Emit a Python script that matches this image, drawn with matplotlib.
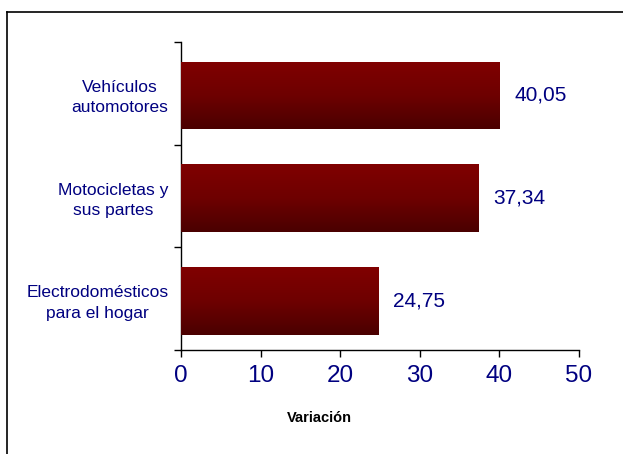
import numpy as np
import matplotlib
matplotlib.use("Agg")
import matplotlib.pyplot as plt
from matplotlib.colors import LinearSegmentedColormap
from matplotlib.lines import Line2D

plt.rcParams['font.family'] = ['Liberation Sans', 'DejaVu Sans']

# datos (de abajo hacia arriba)
categories = ['Electrodomésticos\npara el hogar', 'Motocicletas y\nsus partes', 'Vehículos\nautomotores']
values = [24.75, 37.34, 40.05]
xticks = [0, 10, 20, 30, 40, 50]

navy = '#000080'
W, H = 623, 454
fig = plt.figure(figsize=(W / 100, H / 100), dpi=100)
ax = fig.add_axes([181 / W, 1 - 350 / H, (579 - 181) / W, (350 - 42) / H])

ypos = np.arange(len(categories))
bars = ax.barh(ypos - 0.02, values, height=0.66, color='#700000', zorder=2)

# degradado vertical en cada barra
cmap = LinearSegmentedColormap.from_list('grad', ['#4a0000', '#6e0000', '#800000'])
grad = np.linspace(0, 1, 256).reshape(-1, 1)
for b in bars:
    x0, y0 = b.get_x(), b.get_y()
    im = ax.imshow(grad, cmap=cmap, aspect='auto', origin='lower',
                   extent=[x0, x0 + b.get_width(), y0, y0 + b.get_height()], zorder=3)
    im.set_clip_path(b)

for y, v in zip(ypos, values):
    ax.text(v + 1.9, y - 0.02, f'{v:.2f}'.replace('.', ','), va='center', ha='left',
            fontsize=15, color=navy)

ax.set_xlim(0, 50)
ax.set_ylim(-0.5, 2.5)
ax.set_xticks(xticks)
ax.set_xticklabels([str(t) for t in xticks], fontsize=17.5, color=navy)
ax.tick_params(axis='x', direction='out', length=5, width=1, pad=6)

ax.set_yticks(ypos)
ax.set_yticklabels(categories, fontsize=12.5, color=navy)
for t in ax.get_yticklabels():
    t.set_multialignment('center')
    t.set_linespacing(1.45)
ax.tick_params(axis='y', which='major', length=0, pad=9)
ax.set_yticks([-0.5, 0.5, 1.5, 2.5], minor=True)
ax.tick_params(axis='y', which='minor', direction='out', length=5, width=1)

for s in ['top', 'right']:
    ax.spines[s].set_visible(False)
for s in ['left', 'bottom']:
    ax.spines[s].set_linewidth(1)

fig.text(319 / W, 1 - 418 / H, 'Variación', ha='center', va='center',
         fontsize=10.5, fontweight='bold', color='black')

# marco del gráfico (solo izquierda y arriba visibles)
fig.add_artist(Line2D([7 / W, 7 / W], [0, 1 - 12 / H], color='black', lw=1.2))
fig.add_artist(Line2D([7 / W, 1], [1 - 12 / H, 1 - 12 / H], color='black', lw=1.2))

fig.savefig('out.png', dpi=100)
